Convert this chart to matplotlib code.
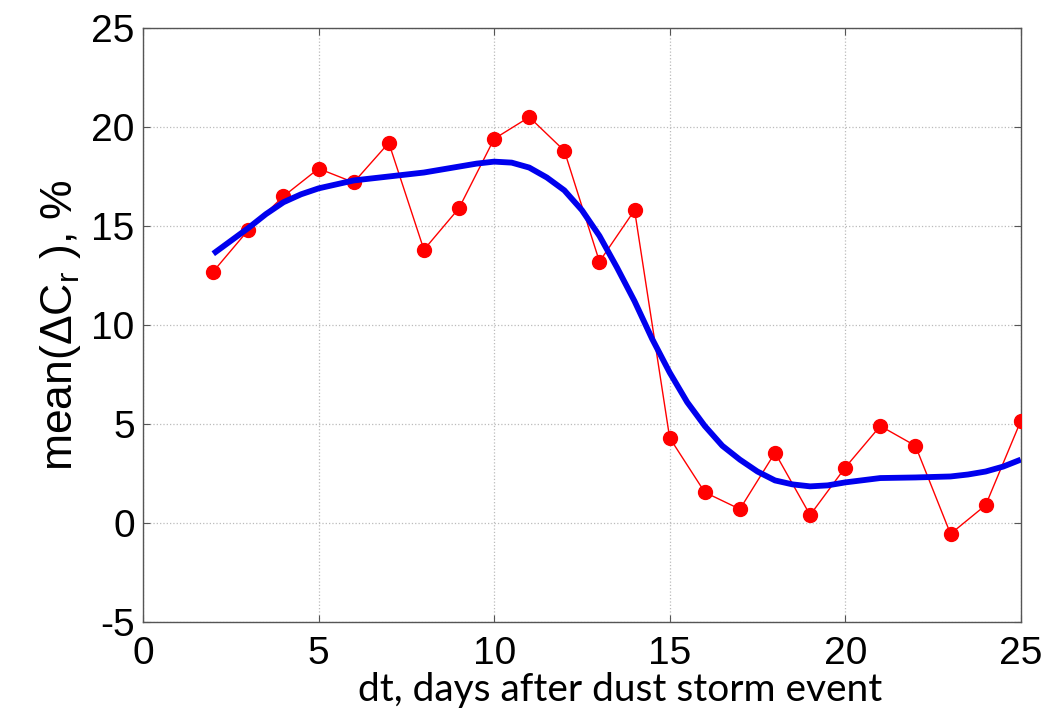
import matplotlib
matplotlib.use('Agg')
import matplotlib.pyplot as plt

plt.rcParams['axes.unicode_minus'] = False
plt.rcParams['mathtext.fontset'] = 'custom'
plt.rcParams['mathtext.rm'] = 'Liberation Sans'
plt.rcParams['mathtext.it'] = 'Liberation Sans'

# red measured points
days = [2, 3, 4, 5, 6, 7, 8, 9, 10, 11, 12, 13, 14, 15, 16, 17, 18, 19, 20, 21, 22, 23, 24, 25]
mean_dc = [12.7, 14.8, 16.5, 17.9, 17.2, 19.2, 13.8, 15.9, 19.4, 20.5, 18.8, 13.2, 15.8,
           4.3, 1.55, 0.7, 3.55, 0.4, 2.8, 4.9, 3.9, -0.55, 0.9, 5.15]

# blue smoothed curve
fit_x = [2, 2.5, 3, 3.5, 4, 4.5, 5, 5.5, 6, 7, 8, 9, 9.5, 10, 10.5, 11, 11.5, 12, 12.5, 13,
         13.5, 14, 14.5, 15, 15.5, 16, 16.5, 17, 17.5, 18, 18.5, 19, 19.5, 20, 21, 22, 23,
         23.5, 24, 24.5, 25]
fit_y = [13.6, 14.25, 14.9, 15.6, 16.2, 16.6, 16.9, 17.1, 17.3, 17.5, 17.7, 18.0, 18.15, 18.25,
         18.2, 17.95, 17.45, 16.8, 15.8, 14.5, 12.9, 11.2, 9.3, 7.6, 6.1, 4.9, 3.9, 3.2, 2.6,
         2.15, 1.95, 1.85, 1.9, 2.05, 2.27, 2.3, 2.35, 2.45, 2.6, 2.85, 3.2]

fig = plt.figure(figsize=(10.48, 7.12), dpi=100)
ax = fig.add_axes([0.1365, 0.1264, 0.8375, 0.8343])

ax.plot(days, mean_dc, color='#ff0000', linewidth=1.0, marker='o', markersize=10,
        markeredgecolor='#ff0000', markerfacecolor='#ff0000', zorder=3)
ax.plot(fit_x, fit_y, color='#0000ee', linewidth=4.2, zorder=4, solid_capstyle='butt',
        solid_joinstyle='round')

ax.set_xlim(0, 25)
ax.set_ylim(-5, 25)
ax.set_xticks([0, 5, 10, 15, 20, 25])
ax.set_yticks([-5, 0, 5, 10, 15, 20, 25])
ax.grid(True, linestyle=':', color='#bbbbbb', linewidth=0.9)
ax.tick_params(direction='in', length=5, width=0.8, color='#555555',
               top=True, right=True, labelsize=28, pad=6)
ax.tick_params(axis='x', pad=10)
for lab in ax.get_xticklabels() + ax.get_yticklabels():
    lab.set_family('Liberation Sans')
for s in ax.spines.values():
    s.set_color('#555555')
    s.set_linewidth(1.0)

ax.set_ylabel(r'mean($\Delta$C$_{\rm r}$ ), %', fontsize=32, family='Liberation Sans', labelpad=6)
fig.text(620 / 1048, 1 - 690 / 712, 'dt, days after dust storm event', fontsize=28,
         family='Lato', ha='center', va='center')

fig.savefig('out.png', dpi=100)
